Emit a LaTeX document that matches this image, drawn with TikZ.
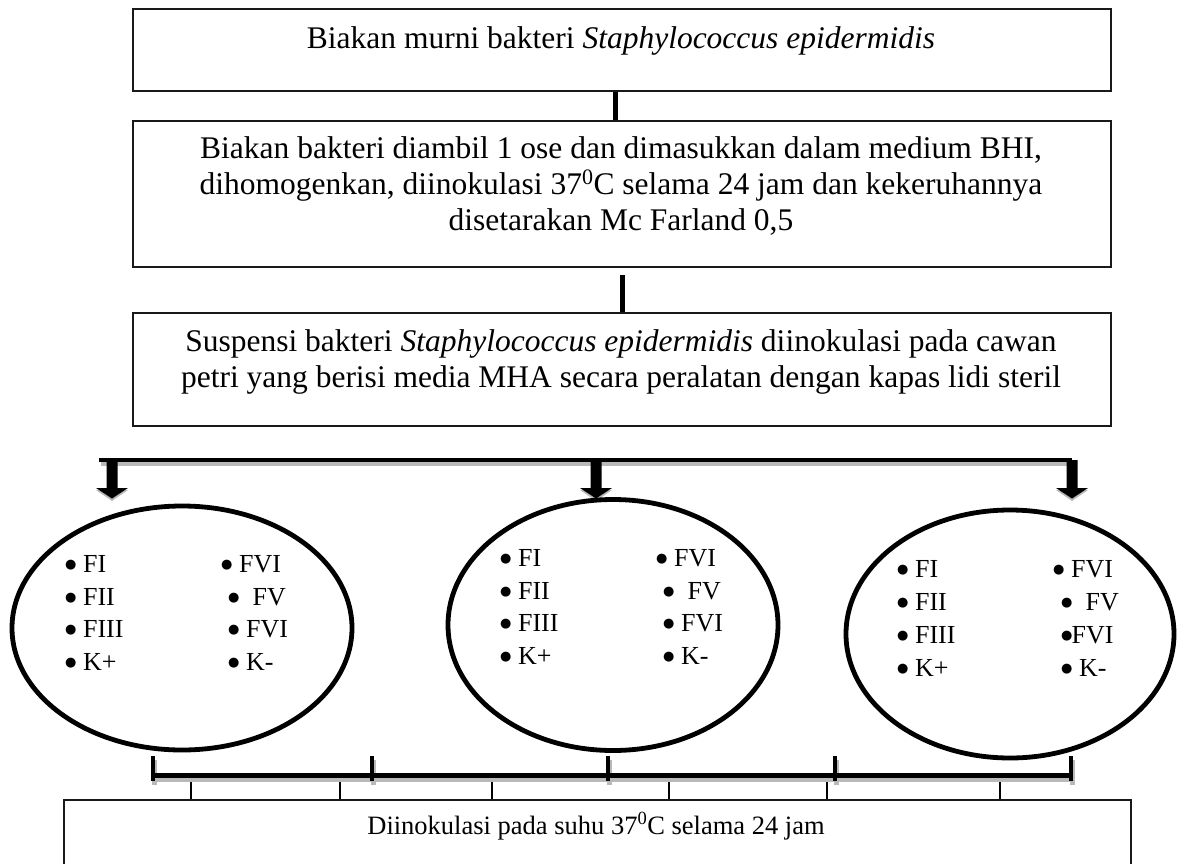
\documentclass[tikz,border=0pt]{standalone}
\usepackage{fontspec}
\usepackage{graphicx}
\setmainfont{Liberation Serif}
\newfontfamily\dvs{DejaVu Sans}
\usetikzlibrary{shapes.geometric}
\newcommand\bigbul{\raisebox{3.5pt}{\fontsize{13}{13}\selectfont\dvs ●}}
\begin{document}
\begin{tikzpicture}[x=1pt,y=-1pt,
  box/.style={draw=black!90, line width=1.8pt, inner sep=0pt, minimum width=978pt, anchor=north west},
  big/.style={font=\fontsize{31.5}{36}\selectfont, anchor=base, inner sep=0pt},
  small/.style={font=\fontsize{26.5}{30}\selectfont, anchor=base, inner sep=0pt},
  item/.style={font=\fontsize{26}{30}\selectfont, anchor=base west, inner sep=0pt, text height=18pt, text depth=2pt},
  ell/.style={draw, ellipse, line width=4.8pt, inner sep=0pt},
  conn/.style={line width=5pt},
  thickbar/.style={line width=4.5pt},
  shadowbar/.style={line width=4.5pt, draw=gray!55},
  thinline/.style={line width=1.5pt},
  downarrow/.pic={
    \fill[gray!55] (-16,30) -- (0,41) -- (16,30) -- cycle;
    \fill[black] (-5.5,0) -- (-5.5,28) -- (-16,28) -- (0,38.5) -- (16,28) -- (5.5,28) -- (5.5,0) -- cycle;
  }]
\useasboundingbox (0,0) rectangle (1177,864);
\clip (0,0) rectangle (1177,864);

% boxes
\node[box, minimum height=82pt] (b1) at (132,8) {};
\node[box, minimum height=146pt] (b2) at (132,120) {};
\node[box, minimum height=113pt] (b3) at (132,312) {};
\node[box, line width=1.5pt, minimum width=1067pt, minimum height=110pt] (b4) at (63,799) {};

% box texts
\node[big] (t1) at (621,49) {Biakan murni bakteri \textit{Staphylococcus epidermidis}};
\node[big] (t2a) at (621,158) {Biakan bakteri diambil 1 ose dan dimasukkan dalam medium BHI,};
\node[big] (t2b) at (621,194) {dihomogenkan, diinokulasi 37\textsuperscript{0}C selama 24 jam dan kekeruhannya};
\node[big] (t2c) at (621,230) {disetarakan Mc Farland 0,5};
\node[big] (t3a) at (621,351) {Suspensi bakteri \textit{Staphylococcus epidermidis} diinokulasi pada cawan};
\node[big] (t3b) at (621,387) {petri yang berisi media MHA secara peralatan dengan kapas lidi steril};
\node[small] (t4) at (596,834) {Diinokulasi pada suhu 37\textsuperscript{0}C selama 24 jam};

% connectors between boxes
\coordinate (k1) at (615,0);
\coordinate (k2) at (622,0);
\draw[conn] (b1.south -| k1) -- (b2.north -| k1);
\draw[conn, shorten <=7pt] (b2.south -| k2) -- (b3.north -| k2);

% distribution bar
\coordinate (L) at (99,460);
\coordinate (R) at (1072,460);
\draw[shadowbar] ([shift={(2,3.5)}]L) -- ([shift={(2,3.5)}]R);
\draw[thickbar] (L) -- (R);
\pic at (112,460) {downarrow};
\pic at (596,460) {downarrow};
\pic at (1072,460) {downarrow};

% ellipses
\node[ell, minimum width=340pt, minimum height=244pt] (e1) at (182,628) {};
\node[ell, minimum width=330pt, minimum height=251pt] (e2) at (613,625) {};
\node[ell, minimum width=328pt, minimum height=248pt] (e3) at (1010,634) {};

% ellipse 1 items
\node[item] (e1a) at (65,572) {\bigbul\ FI};
\node[item] (e1b) at (65,605) {\bigbul\ FII};
\node[item] (e1c) at (65,637) {\bigbul\ FIII};
\node[item] (e1d) at (65,670) {\bigbul\ K+};
\node[item] (e1e) at (221,572) {\bigbul\ FVI};
\node[item] (e1f) at (228,605) {\bigbul\ \ FV};
\node[item] (e1g) at (228,637) {\bigbul\ FVI};
\node[item] (e1h) at (228,670) {\bigbul\ K-};

% ellipse 2 items
\node[item] (e2a) at (500,566) {\bigbul\ FI};
\node[item] (e2b) at (500,599) {\bigbul\ FII};
\node[item] (e2c) at (500,631) {\bigbul\ FIII};
\node[item] (e2d) at (500,664) {\bigbul\ K+};
\node[item] (e2e) at (656,566) {\bigbul\ FVI};
\node[item] (e2f) at (663,599) {\bigbul\ \ FV};
\node[item] (e2g) at (663,631) {\bigbul\ FVI};
\node[item] (e2h) at (663,664) {\bigbul\ K-};

% ellipse 3 items
\node[item] (e3a) at (897,577) {\bigbul\ FI};
\node[item] (e3b) at (897,610) {\bigbul\ FII};
\node[item] (e3c) at (897,643) {\bigbul\ FIII};
\node[item] (e3d) at (897,676) {\bigbul\ K+};
\node[item] (e3e) at (1053,577) {\bigbul\ FVI};
\node[item] (e3f) at (1061,610) {\bigbul\ \ FV};
\node[item] (e3g) at (1061,643) {\bigbul\hspace{-1pt}FVI};
\node[item] (e3h) at (1061,676) {\bigbul\ K-};

% bottom bracket
\coordinate (BL) at (153,775.5);
\coordinate (BR) at (1071,775.5);
\foreach \x in {191,340,492,669,827,1000}
  \draw[thinline] (\x,775) -- (\x,799);
\draw[shadowbar] ([shift={(1.5,4)}]BL) -- ([shift={(1.5,4)}]BR);
\foreach \x in {153,372,608,835,1071}
  \draw[shadowbar] (\x+1.5,760) -- (\x+1.5,785);
\draw[thickbar] (BL) -- (BR);
\foreach \x in {153,372,608,835,1071}
  \draw[thickbar] (\x,756) -- (\x,781);
\end{tikzpicture}
\end{document}
